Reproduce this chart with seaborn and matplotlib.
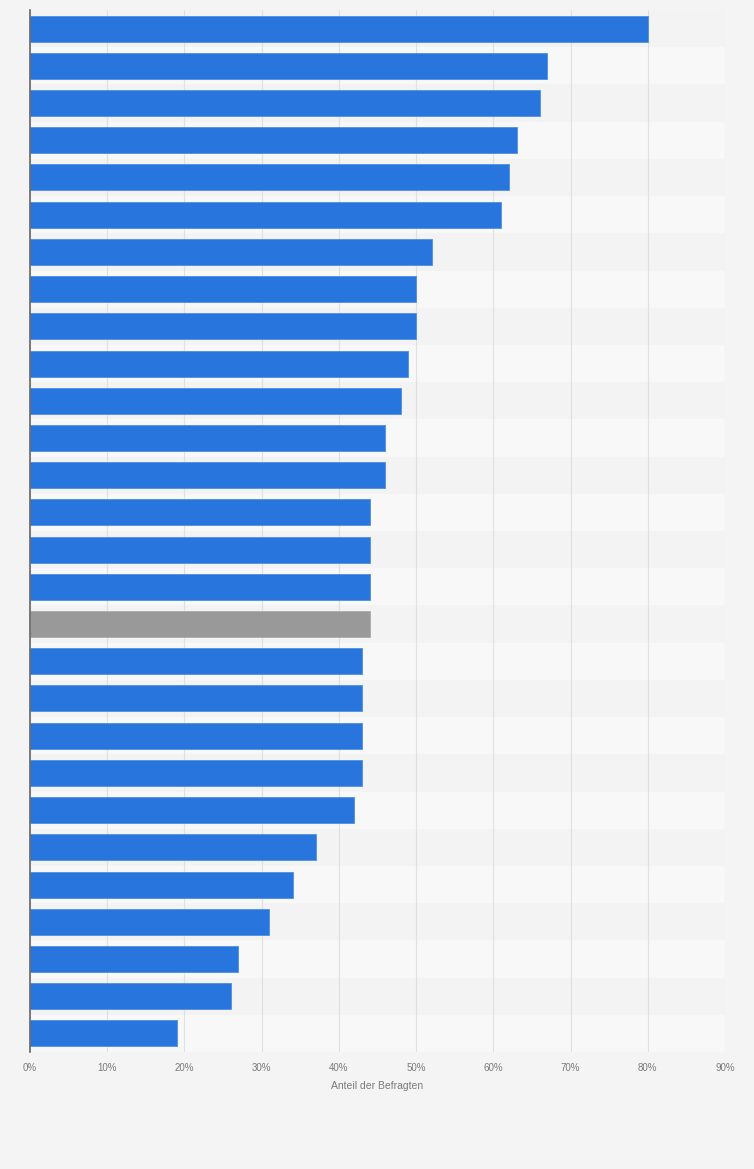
import matplotlib.pyplot as plt
import seaborn as sns
import pandas as pd

# Share of respondents per (unlabelled) category, top to bottom
categories = [f"c{i}" for i in range(1, 29)]
values = [80, 67, 66, 63, 62, 61, 52, 50, 50, 49, 48, 46, 46, 44,
          44, 44, 44, 43, 43, 43, 43, 42, 37, 34, 31, 27, 26, 19]
highlight = "c17"
ticks = [0, 10, 20, 30, 40, 50, 60, 70, 80, 90]
tick_labels = [f"{t}%" for t in ticks]

df = pd.DataFrame({"cat": categories, "val": values})
palette = {c: ("#999999" if c == highlight else "#2876dd") for c in categories}

sns.set_style("white")
plt.rcParams['font.family'] = ['Liberation Sans', 'DejaVu Sans']

fig = plt.figure(figsize=(7.54, 11.69), dpi=100, facecolor="#f4f4f4")
ax = fig.add_axes([30 / 754, 1 - 1052 / 1169, 695 / 754, 1042 / 1169])
ax.set_facecolor("#f4f4f4")

# alternating row bands
for i in range(len(categories)):
    ax.axhspan(i - 0.5, i + 0.5, color="#f3f3f3" if i % 2 == 0 else "#f8f8f8", zorder=0, lw=0)

sns.barplot(data=df, x="val", y="cat", hue="cat", palette=palette, legend=False,
            orient="h", width=0.7, saturation=1, ax=ax, zorder=3, linewidth=0.6)

# slightly lighter outline like the original
for p in ax.patches:
    fc = p.get_facecolor()
    p.set_edgecolor("#aaaaaa" if fc[0] > 0.5 else "#4f8fe6")

ax.set_xlim(0, 90)
ax.set_ylim(len(categories) - 0.5, -0.5)
ax.set_xticks(ticks)
ax.set_xticklabels(tick_labels, fontsize=7, color="#7a7a7a")
ax.set_yticks([])
ax.set_ylabel("")
ax.set_xlabel("Anteil der Befragten", fontsize=7.5, color="#7a7a7a", labelpad=6)
ax.tick_params(axis="x", length=0, pad=8)
ax.grid(axis="x", color="#e0e0e0", linewidth=0.8, zorder=1)
ax.set_axisbelow(True)

for s in ["top", "right", "bottom"]:
    ax.spines[s].set_visible(False)
ax.spines["left"].set_color("#666666")
ax.spines["left"].set_linewidth(1.2)
ax.spines["left"].set_zorder(5)

fig.savefig("out.png", dpi=100, facecolor=fig.get_facecolor())
